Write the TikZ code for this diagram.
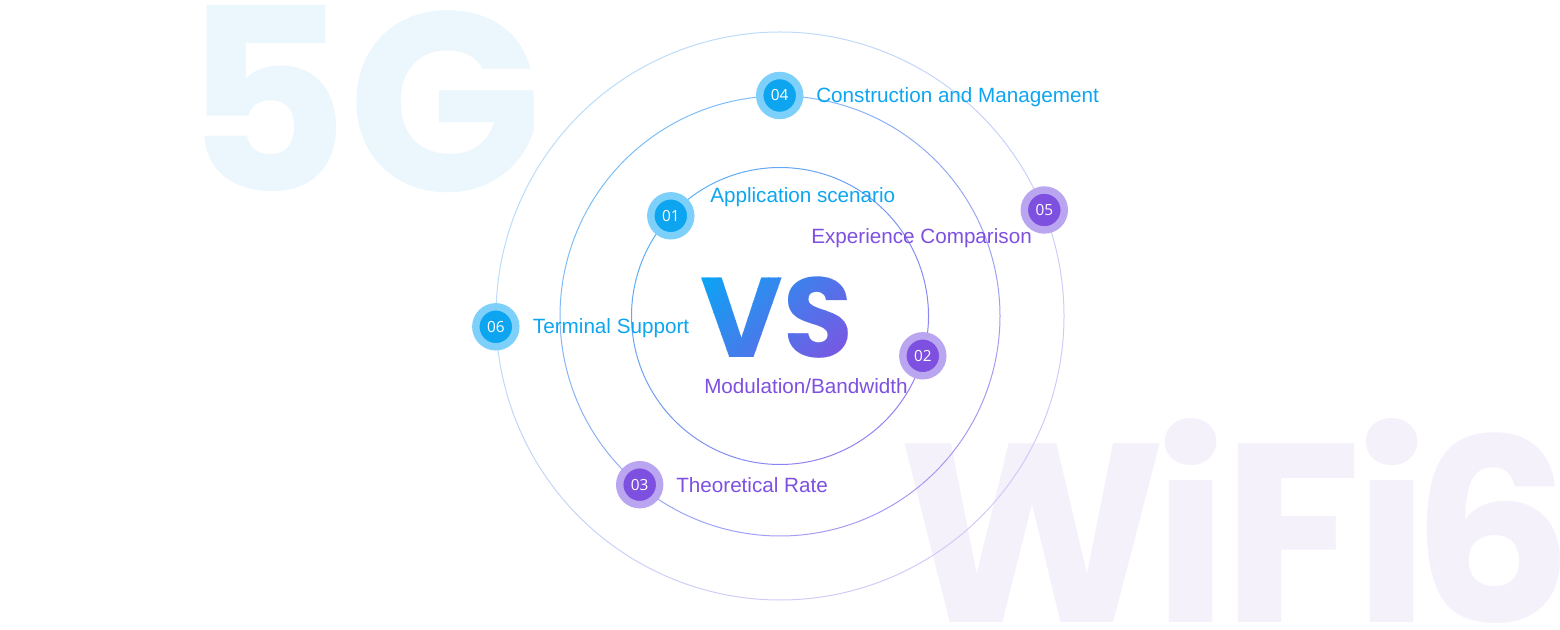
\documentclass[tikz,border=0pt]{standalone}
\usepackage{fontspec}
\setmainfont{Liberation Sans}
\newfontfamily\poppins{Poppins}
\newfontfamily\numfont{Open Sans}
\usepackage{tikz}

\definecolor{cblue}{RGB}{14,165,240}
\definecolor{cbluelight}{RGB}{125,208,250}
\definecolor{cpurple}{RGB}{125,80,224}
\definecolor{cpurplelight}{RGB}{186,165,240}
\definecolor{fivegbg}{RGB}{236,246,253}
\definecolor{wifibg}{RGB}{244,241,251}
\definecolor{ringblue}{RGB}{90,175,245}
\definecolor{ringpurple}{RGB}{150,125,240}
\definecolor{vsblue}{RGB}{5,168,245}
\definecolor{vspurple}{RGB}{135,78,225}

\begin{document}
\begin{tikzpicture}[x=0.75pt,y=0.75pt,yscale=-1,xscale=1,
  badge/.style={circle, inner sep=0pt, minimum size=30pt, line width=5.55pt, text=white, font=\numfont\fontsize{11.5}{13}\selectfont},
  bluebadge/.style={badge, fill=cblue, draw=cbluelight},
  purplebadge/.style={badge, fill=cpurple, draw=cpurplelight},
  caption/.style={anchor=base west, inner sep=0pt, font=\fontsize{15.5}{18}\selectfont},
  bigword/.style={anchor=base west, inner sep=0pt, font=\poppins\bfseries\fontsize{191}{191}\selectfont},
  vsword/.style={inner sep=0pt, font=\poppins\bfseries\fontsize{85}{85}\selectfont}]
\path [use as bounding box] (0,0) rectangle (1560,630);

% Text Node
\node (fiveg) [bigword, text=fivegbg] at (183,192) {5G};
% Text Node
\node (w) [bigword, text=wifibg] at (898,622) {W};
\node (i1) [bigword, text=wifibg] at (1153,622) {i};
\node (f) [bigword, text=wifibg] at (1222,622) {F};
\node (i2) [bigword, text=wifibg] at (1354,622) {i};
\node (six) [bigword, text=wifibg] at (1411,622) {6};

%Shape: Circle [rings]
\foreach \r/\op in {148.5/100, 220/80, 284/42} {
  \foreach \a in {0,5,...,355} {
    \pgfmathtruncatemacro{\t}{50+50*cos(\a+2.5-45)}
    \draw [color=ringpurple!\t!ringblue!\op!white, line width=0.75pt] ([shift={(\a:\r)}]780,316) arc [start angle=\a, end angle=\a+5, radius=\r];
  }
}

% Text Node (gradient in strips)
\foreach \i in {0,...,24} {
  \pgfmathsetmacro{\sa}{965+10*\i}
  \pgfmathsetmacro{\sb}{\sa+10.6}
  \pgfmathtruncatemacro{\t}{4*\i}
  \begin{scope}
    \clip (\sa-262,262) -- (\sb-262,262) -- (\sb-372,372) -- (\sa-372,372) -- cycle;
    \node (vs\i) [vsword, text=vspurple!\t!vsblue] at (776.5,317.5) {VS};
  \end{scope}
}

%Shape: Circle [badges]
\node (b01) [bluebadge] at (670.8,215.8) {01};
\node (b02) [purplebadge] at (922.8,355.8) {02};
\node (b03) [purplebadge] at (639.7,484.7) {03};
\node (b04) [bluebadge] at (779.7,95.5) {04};
\node (b05) [purplebadge] at (1044.3,210) {05};
\node (b06) [bluebadge] at (495.8,326.8) {06};

% Text Node
\node (t01) [caption, text=cblue] at (710,202.3) {Application scenario};
% Text Node
\node (t02) [caption, text=cpurple] at (704,393.3) {Modulation/Bandwidth};
% Text Node
\node (t03) [caption, text=cpurple] at (676,492.3) {Theoretical Rate};
% Text Node
\node (t04) [caption, text=cblue] at (816,103) {Construction and Management};
% Text Node
\node (t05) [caption, text=cpurple] at (811,244) {Experience Comparison};
% Text Node
\node (t06) [caption, text=cblue] at (532.7,333.3) {Terminal Support};

\end{tikzpicture}
\end{document}
